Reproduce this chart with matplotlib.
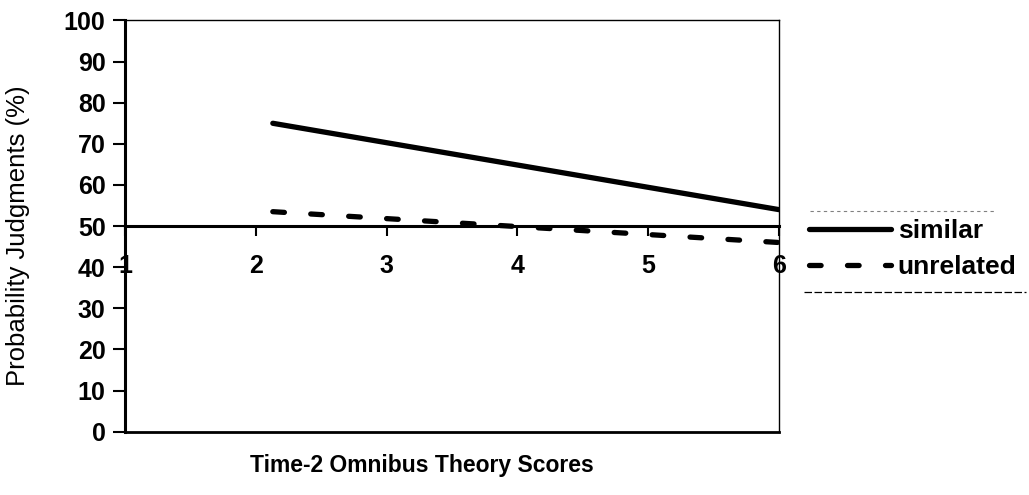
import matplotlib
matplotlib.use("Agg")
import matplotlib.pyplot as plt
from matplotlib.lines import Line2D

plt.rcParams['font.family'] = ['Liberation Sans', 'DejaVu Sans']

# Data (regression line endpoints)
x_scores = [2.13, 6.0]
similar = [75.0, 54.0]
unrelated = [53.5, 46.0]
x_ticks = [1, 2, 3, 4, 5, 6]
y_ticks = [0, 10, 20, 30, 40, 50, 60, 70, 80, 90, 100]

fig = plt.figure(figsize=(10.29, 4.95), dpi=100)
ax = fig.add_axes([0.1215, 0.128, 0.6355, 0.8306])

ax.plot(x_scores, similar, color='black', lw=3.8, solid_capstyle='round', label='similar')
ax.plot(x_scores, unrelated, color='black', lw=3.8, dashes=(2.2, 5.0),
        dash_capstyle='round', label='unrelated')

ax.set_xlim(1, 6)
ax.set_ylim(0, 100)
ax.set_xticks(x_ticks)
ax.set_yticks(y_ticks)

# x axis crosses at y=50
ax.spines['bottom'].set_position(('data', 50))
ax.spines['bottom'].set_linewidth(2.2)
ax.spines['left'].set_linewidth(2.2)
ax.spines['top'].set_linewidth(1.0)
ax.spines['right'].set_linewidth(1.0)
# bottom frame line at y=0
ax.plot([0, 1], [0, 0], transform=ax.transAxes, color='black', lw=2.0, clip_on=False)

ax.tick_params(axis='y', which='major', direction='out', length=9, width=1.5,
               labelsize=18, pad=5)
ax.tick_params(axis='x', which='major', direction='out', length=7, width=1.5,
               labelsize=18, pad=13)
for lab in ax.get_xticklabels() + ax.get_yticklabels():
    lab.set_fontweight('bold')

ax.set_ylabel('Probability Judgments (%)', fontsize=18.5)
ax.yaxis.set_label_coords(-0.146, 0.477)
fig.text(0.41, 0.06, 'Time-2 Omnibus Theory Scores', fontsize=16.5, fontweight='bold',
         ha='center', va='center')

leg = fig.legend(loc='center left', bbox_to_anchor=(0.786, 0.497), frameon=False,
                 handlelength=3.1, handletextpad=0.27, labelspacing=0.45,
                 borderpad=0, borderaxespad=0,
                 prop={'weight': 'bold', 'size': 19})

fig.add_artist(Line2D([0.787, 0.967], [0.574, 0.574], transform=fig.transFigure,
                      color='gray', lw=0.8, ls=(0, (3, 3))))
fig.add_artist(Line2D([0.781, 0.997], [0.41, 0.41], transform=fig.transFigure,
                      color='black', lw=0.9, ls=(0, (6, 2))))

fig.savefig('out.png', dpi=100)
